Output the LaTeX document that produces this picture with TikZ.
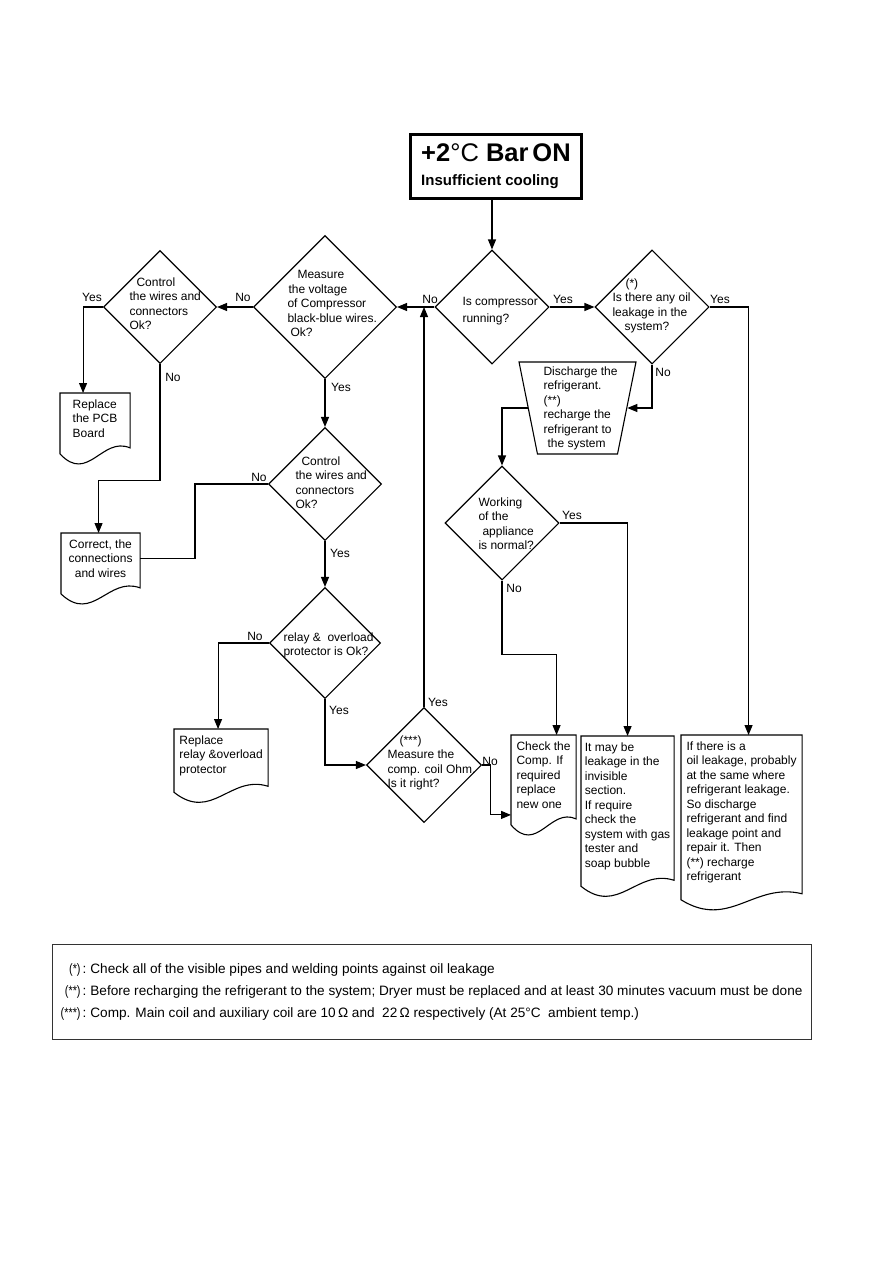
\documentclass[tikz,border=0pt]{standalone}
\usepackage{fontspec}
\setmainfont{Liberation Sans}
\usepackage{graphicx}
\usetikzlibrary{positioning, arrows.meta, shapes.geometric, calc}

\begin{document}
\begin{tikzpicture}[x=1pt, y=-1pt, line width=1.1pt,
    >={Triangle[length=10pt, width=8pt]},
    titlebox/.style={draw, line width=3pt, anchor=north west, minimum width=171, minimum height=64,
      inner xsep=9pt, align=left, font=\fontsize{15}{24}\selectfont\bfseries},
    dec/.style={diamond, draw, inner sep=0pt, minimum width=#1, minimum height=#1},
    trap/.style={trapezium, draw, trapezium left angle=103, trapezium right angle=103,
      trapezium stretches=true, minimum width=117, minimum height=92, inner sep=4pt},
    dtxt/.style={anchor=north west, align=left, inner sep=0pt, font=\fontsize{12}{14.5}\selectfont},
    yn/.style={inner sep=0pt, font=\fontsize{12}{14}\selectfont},
    doc/.style={anchor=north west, align=left, minimum width=#1, inner xsep=0pt, inner ysep=6pt,
      font=\fontsize{12}{14.5}\selectfont,
      append after command={\pgfextra{\draw (\tikzlastnode.north west) -- (\tikzlastnode.north east)
        -- ([yshift=-4pt]\tikzlastnode.south east)
        .. controls ($(\tikzlastnode.south west)!0.6!(\tikzlastnode.south east)+(0pt,8pt)$)
        and ($(\tikzlastnode.south west)!0.4!(\tikzlastnode.south east)+(0pt,-40pt)$)
        .. ([yshift=-10pt]\tikzlastnode.south west) -- cycle;}}},
    notebox/.style={draw=black!80, anchor=north west, minimum width=759, minimum height=95,
      inner sep=0pt, align=left, font=\fontsize{13.6}{22}\selectfont}]
  \useasboundingbox (0,0) rectangle (893,1263);

  % title
  \node[titlebox] (title) at (409,133)
    {{\fontsize{25.5}{25}\selectfont +2{\mdseries °C} Bar\hspace{4pt}ON}\\Insufficient cooling};

  % decisions
  \node[dec=114] (d1) at (492,307) {};
  \node[dec=114] (d2) at (652,307) {};
  \node[dec=143] (d4) at (325,307) {};
  \node[dec=113] (d5) at (160,307) {};
  \node[dec=113] (d6) at (325,484) {};
  \node[dec=111] (d7) at (325,643) {};
  \node[dec=115] (d8) at (424,765) {};
  \node[dec=114] (d3) at (502,523) {};
  \node[trap] (trap) at (577.5,408) {};

  \node[dtxt] (d1t) at (462,297) {Is compressor\\[2.5pt]running?};
  \node[dtxt] (d2t) at (612,278) {\hspace*{13pt}(*)\\Is there any oil\\leakage in the\\\hspace*{12pt}system?};
  \node[dtxt] (d4t) at (287,270) {\hspace*{10pt}Measure\\\hspace*{1pt}the voltage\\of Compressor\\black-blue wires.\\\hspace*{3pt}Ok?};
  \node[dtxt] (d5t) at (129,277) {\hspace*{7pt}Control\\the wires and\\connectors\\Ok?};
  \node[dtxt] (d6t) at (295,456) {\hspace*{6pt}Control\\the wires and\\connectors\\Ok?};
  \node[dtxt] (d7t) at (283,632) {relay \&\ \ overload\\protector is Ok?};
  \node[dtxt] (d8t) at (387,735) {\hspace*{12pt}(***)\\Measure the\\comp. coil Ohm.\\Is it right?};
  \node[dtxt] (d3t) at (478,497) {Working\\of the\\\hspace*{4pt}appliance\\is normal?};
  \node[dtxt] (trapt) at (543,366) {Discharge the\\refrigerant.\\(**)\\recharge the\\refrigerant to\\\hspace*{4pt}the system};

  % end boxes
  \node[doc=69] (pcb) at (60,393) {Replace\\the PCB\\Board};
  \node[doc=78, align=center] (correct) at (61,533) {Correct, the\\connections\\and wires};
  \node[doc=93] (relay) at (174,729) {Replace\\relay \&overload\\protector};
  \node[doc=64] (check) at (511,735) {Check the\\Comp. If\\required\\replace\\new one};
  \node[doc=92] (leak) at (581,736) {It may be\\leakage in the\\invisible\\section.\\If require\\check the\\system with gas\\tester and\\soap bubble};
  \node[doc=120] (oil) at (681,735) {If there is a\\oil leakage, probably\\at the same where\\refrigerant leakage.\\So discharge\\refrigerant and find\\leakage point and\\repair it. Then\\(**) recharge\\refrigerant};

  % connectors
  \draw[->] (title.south -| d1.north) -- (d1.north);
  \draw[->] (d1.east) -- (d2.west);
  \draw[->] (d1.west) -- (d4.east);
  \draw[->] (d2.east) -| ([xshift=7pt]oil.north);
  \draw[->] (d2.south) |- (trap.east);
  \draw[->] (trap.west) -| (d3.north);
  \draw[->] (d3.east) -| (leak.north);
  \draw[->] (d3.south) -- ++(0pt,-74pt) -| ([xshift=13pt]check.north);
  \draw[->] (d4.west) -- (d5.east);
  \draw[->] (d4.south) -- (d6.north);
  \draw[->] (d5.west) -| ([xshift=-12pt]pcb.north);
  \draw[->] (d5.south) -- ++(0pt,-116pt) -| ([xshift=-2pt]correct.north);
  \draw (d6.west) -- ++(-73pt,0pt) |- (correct.east);
  \draw[->] (d6.south) -- (d7.north);
  \draw[->] (d7.west) -| ([xshift=-3pt]relay.north);
  \draw[->] (d7.south) |- (d8.west);
  \draw[->] (d8.north) -- (d8.north |- d1.west);
  \draw[->] (d8.east) -- ++(8pt,0pt) |- (check.south west);

  % yes / no
  \node[yn] (y1) at (563,299) {Yes};
  \node[yn] (n1) at (430,299) {No};
  \node[yn] (y2) at (720,299) {Yes};
  \node[yn] (n2) at (663,372) {No};
  \node[yn] (n4) at (243,297) {No};
  \node[yn] (y5) at (92,297) {Yes};
  \node[yn] (n5) at (173,377) {No};
  \node[yn] (y4) at (341,387) {Yes};
  \node[yn] (n6) at (259,477) {No};
  \node[yn] (y6) at (340,553) {Yes};
  \node[yn] (n7) at (255,636) {No};
  \node[yn] (y7) at (339,710) {Yes};
  \node[yn] (y8) at (438,702) {Yes};
  \node[yn] (n8) at (490,761) {No};
  \node[yn] (y3) at (572,515) {Yes};
  \node[yn] (n3) at (514,588) {No};

  % notes
  \node[notebox] (notes) at (52,944)
    {\makebox[19pt][r]{\scalebox{0.8}[1]{(*)}}\hspace{2pt}:\hspace{4pt}Check all of the visible pipes and welding points against oil leakage\\
     \makebox[19pt][r]{\scalebox{0.8}[1]{(**)}}\hspace{2pt}:\hspace{4pt}Before recharging the refrigerant to the system; Dryer must be replaced and at least 30 minutes vacuum must be done\\
     \makebox[19pt][r]{\scalebox{0.8}[1]{(***)}}\hspace{2pt}:\hspace{4pt}Comp. Main coil and auxiliary coil are 10\,Ω and \ 22\,Ω respectively (At 25°C \ ambient temp.)};
\end{tikzpicture}
\end{document}
